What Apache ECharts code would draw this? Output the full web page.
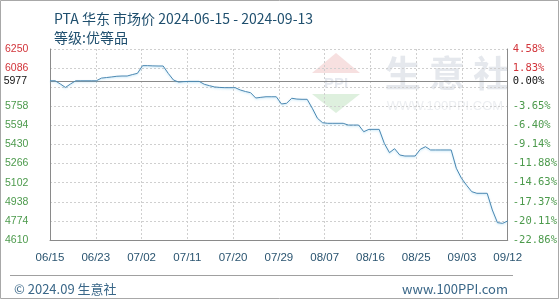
<!DOCTYPE html>
<html><head><meta charset="utf-8">
<script src="https://cdn.jsdelivr.net/npm/echarts@6/dist/echarts.min.js"></script>
<style>html,body{margin:0;padding:0;background:#fff}#c{width:560px;height:300px}</style>
</head><body><div id="c"></div>
<script>
const titleText = 'PTA 华东 市场价 2024-06-15 - 2024-09-13';
const subTitle = '等级:优等品';
const footerLeft = '© 2024.09 生意社';
const footerRight = 'www.100PPI.com';
const xTickLabels = ['06/15','06/23','07/02','07/11','07/20','07/29','08/07','08/16','08/25','09/03','09/12'];
// daily prices from 06/15 (day 0) to 09/12 (day 89)
const prices = [
  5977,5977,5950,5920,5950,5977,5977,5977,5977,5977,
  6000,6005,6010,6016,6018,6018,6030,6041,6107,6107,
  6105,6104,6104,6040,5984,5966,5970,5972,5972,5972,
  5947,5935,5924,5920,5918,5918,5918,5898,5885,5875,
  5829,5835,5840,5840,5840,5778,5784,5827,5820,5818,
  5818,5741,5655,5617,5612,5612,5612,5612,5597,5597,
  5597,5540,5560,5560,5560,5440,5360,5394,5340,5331,
  5331,5331,5389,5411,5383,5383,5383,5383,5383,5226,
  5140,5080,5025,5011,5011,5011,4868,4759,4753,4774
];
const baseline = 5977;
const baselinePct = '0.00%';
const yMin = 4610, yMax = 6250, yStep = 164;
const pctLabels = ['-22.86%','-20.11%','-17.37%','-14.63%','-11.88%','-9.14%','-6.40%','-3.65%','','1.83%','4.58%'];
const xMax = 89;
const xStep = 8.9;

const RED = '#d2353b', GREEN = '#4c9a4c', BLACK = '#111', TITLE = '#1f4f6e';
const chart = echarts.init(document.getElementById('c'), null, {renderer: 'canvas'});
const seriesData = prices.map((v, i) => [i, v]);
const isHidden = v => Math.abs(v - baseline) < 80;

chart.setOption({
  animation: false,
  backgroundColor: '#fff',
  grid: {left: 50, right: 50, top: 49, bottom: 60, containLabel: false},
  title: [
    {text: titleText, left: 49, top: 7, textStyle: {fontSize: 14, fontWeight: 'normal', color: TITLE, fontFamily: 'Noto Sans CJK SC'}},
    {text: subTitle, left: 49, top: 26, textStyle: {fontSize: 14, fontWeight: 'normal', color: TITLE, fontFamily: 'Noto Sans CJK SC'}},
    {text: footerLeft, left: 9, top: 278, textStyle: {fontSize: 13, fontWeight: 'normal', color: '#3a6788', fontFamily: 'Noto Sans CJK SC'}},
    {text: footerRight, right: 47, top: 278, textStyle: {fontSize: 13, fontWeight: 'normal', color: '#3a6788', fontFamily: 'Noto Sans CJK SC'}}
  ],
  graphic: [
    {type: 'rect', shape: {x: 0.5, y: 0.5, width: 558, height: 298}, style: {fill: 'none', stroke: '#a8a8a8', lineWidth: 1}, z: -1},
    {type: 'line', shape: {x1: 10, y1: 275.5, x2: 513, y2: 275.5}, style: {stroke: '#a0a0a0', lineWidth: 1}},
    // watermark
    {type: 'polygon', shape: {points: [[336, 53], [312, 73], [360, 73]]}, style: {fill: '#f7e0e0'}, z: 0},
    {type: 'text', style: {text: 'PPI', x: 336, y: 84, align: 'center', verticalAlign: 'middle', font: 'bold 15px Liberation Sans', fill: '#e6e9ef'}, z: 0},
    {type: 'polygon', shape: {points: [[312, 94], [360, 94], [336, 113]]}, style: {fill: '#def0de'}, z: 0},
    {type: 'text', style: {text: '生 意 社', x: 447, y: 73, align: 'center', verticalAlign: 'middle', font: 'bold 36px Noto Sans CJK SC', fill: '#e5e8ed'}, z: 0},
    {type: 'text', style: {text: 'WWW.100PPI.COM', x: 445, y: 106, align: 'center', verticalAlign: 'middle', font: '13px Liberation Sans', fill: '#eceef1'}, z: 0}
  ],
  xAxis: {
    type: 'value', min: 0, max: xMax, interval: xStep,
    axisLine: {show: true, lineStyle: {color: '#8a8a8a', width: 1}},
    axisTick: {show: false},
    axisLabel: {
      margin: 12, fontSize: 11.5, color: '#2a5470', fontFamily: 'Liberation Sans',
      formatter: v => xTickLabels[Math.round(v / xStep)] || ''
    },
    splitLine: {show: true, lineStyle: {color: '#cfcfcf', type: [2, 2], width: 1}}
  },
  yAxis: [
    {
      type: 'value', position: 'left', min: yMin, max: yMax, interval: yStep,
      axisLine: {show: true, lineStyle: {color: '#8a8a8a', width: 1}},
      axisTick: {show: false},
      axisLabel: {
        align: 'left', margin: 45, fontSize: 10.5, fontFamily: 'Liberation Sans',
        formatter: v => isHidden(v) ? '' : String(Math.round(v)),
        color: v => Number(v) > baseline ? RED : GREEN
      },
      splitLine: {show: true, lineStyle: {color: '#cfcfcf', type: [2, 2], width: 1}}
    },
    {
      type: 'value', position: 'right', min: yMin, max: yMax, interval: yStep,
      axisLine: {show: true, lineStyle: {color: '#8a8a8a', width: 1}},
      axisTick: {show: false},
      axisLabel: {
        margin: 5, fontSize: 10.5, fontFamily: 'DejaVu Sans Mono',
        formatter: v => pctLabels[Math.round((v - yMin) / yStep)] || '',
        color: v => Number(v) > baseline ? RED : GREEN
      },
      splitLine: {show: false}
    }
  ],
  series: [{
    type: 'line', data: seriesData, showSymbol: false, symbol: 'none',
    lineStyle: {color: '#4b88b2', width: 1, shadowColor: 'rgba(120,200,240,0.5)', shadowBlur: 2, shadowOffsetY: 1},
    z: 5,
    markLine: {
      silent: true, symbol: 'none', animation: false,
      lineStyle: {color: '#8a8a8a', type: 'solid', width: 1},
      data: [
        {yAxis: baseline, label: {show: true, position: 'start', distance: 23, formatter: String(baseline), color: BLACK, fontSize: 10.5, fontFamily: 'Liberation Sans'}},
        {yAxis: baseline, label: {show: true, position: 'end', distance: 5, formatter: baselinePct, color: BLACK, fontSize: 10.5, fontFamily: 'DejaVu Sans Mono'}}
      ]
    }
  }]
});
</script></body></html>
